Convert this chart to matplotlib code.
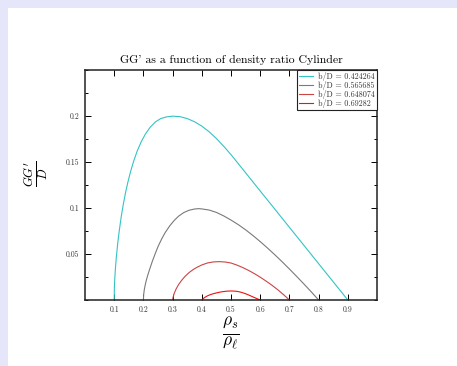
import matplotlib
matplotlib.use("Agg")
import matplotlib.pyplot as plt
from matplotlib.patches import Rectangle
from matplotlib.ticker import MultipleLocator

plt.rcParams['font.family'] = 'serif'
plt.rcParams['font.serif'] = ['cmr10', 'DejaVu Serif']
plt.rcParams['mathtext.fontset'] = 'cm'
plt.rcParams['axes.formatter.use_mathtext'] = True

labels = ["b/D = 0.424264", "b/D = 0.565685", "b/D = 0.648074", "b/D = 0.69282"]
colors = ["#33c4c4", "#7a7a7a", "#cc4444", "#ee1111"]

x1 = [0.100, 0.1005, 0.101, 0.102, 0.104, 0.107, 0.112, 0.117, 0.124, 0.131, 0.139, 0.147,
      0.156, 0.167, 0.179, 0.192, 0.207, 0.224, 0.242, 0.260, 0.280, 0.300, 0.325, 0.350,
      0.375, 0.400, 0.425, 0.450, 0.475, 0.500, 0.550, 0.600, 0.650, 0.700, 0.750, 0.800,
      0.850, 0.900]
y1 = [0.000, 0.0115, 0.0165, 0.0235, 0.0335, 0.0455, 0.0615, 0.0745, 0.0905, 0.1038, 0.1169, 0.1283,
      0.1395, 0.1513, 0.1621, 0.1716, 0.1805, 0.1881, 0.1938, 0.1973, 0.1991, 0.1998, 0.1993, 0.1972,
      0.1938, 0.1890, 0.1829, 0.1755, 0.1671, 0.1580, 0.1383, 0.1185, 0.0988, 0.0790, 0.0593, 0.0395,
      0.0198, 0.000]

x2 = [0.200, 0.201, 0.203, 0.206, 0.210, 0.215, 0.222, 0.230, 0.240, 0.250, 0.262, 0.275,
      0.290, 0.305, 0.320, 0.338, 0.356, 0.375, 0.390, 0.400, 0.425, 0.450, 0.475, 0.500,
      0.525, 0.550, 0.575, 0.600, 0.625, 0.650, 0.675, 0.700, 0.725, 0.750, 0.775, 0.800]
y2 = [0.000, 0.006, 0.011, 0.016, 0.0215, 0.027, 0.034, 0.0415, 0.050, 0.058, 0.066, 0.0735,
      0.0805, 0.0863, 0.0910, 0.0950, 0.0975, 0.0989, 0.0993, 0.0990, 0.0978, 0.0952, 0.0914, 0.0869,
      0.0819, 0.0763, 0.0701, 0.0635, 0.0565, 0.0492, 0.0416, 0.0337, 0.0256, 0.0173, 0.0088, 0.000]

x3 = [0.300, 0.302, 0.306, 0.312, 0.320, 0.330, 0.342, 0.356, 0.370, 0.385, 0.400, 0.420,
      0.440, 0.460, 0.480, 0.500, 0.520, 0.540, 0.560, 0.580, 0.600, 0.620, 0.640, 0.660,
      0.680, 0.700]
y3 = [0.000, 0.0035, 0.0075, 0.012, 0.0165, 0.021, 0.0255, 0.0297, 0.0330, 0.0358, 0.0381, 0.0403,
      0.0414, 0.0417, 0.0413, 0.0402, 0.0380, 0.0353, 0.0322, 0.0287, 0.0248, 0.0206, 0.0161,
      0.0112, 0.0058, 0.000]

x4 = [0.400, 0.405, 0.412, 0.420, 0.430, 0.440, 0.450, 0.460, 0.470, 0.480, 0.490, 0.500,
      0.510, 0.520, 0.530, 0.540, 0.550, 0.560, 0.570, 0.580, 0.590, 0.600]
y4 = [0.000, 0.0016, 0.0032, 0.0046, 0.0059, 0.0069, 0.0077, 0.0084, 0.0090, 0.0094, 0.0097,
      0.0098, 0.0097, 0.0094, 0.0088, 0.0079, 0.0068, 0.0055, 0.0041, 0.0027, 0.0013, 0.000]

xs = [x1, x2, x3, x4]
ys = [y1, y2, y3, y4]

fig = plt.figure(figsize=(4.57, 3.66), dpi=100, facecolor='#e6e6fa')
fig.patches.append(Rectangle((8/457, 0), 1, 1 - 8/366, transform=fig.transFigure,
                             facecolor='white', edgecolor='none', zorder=-1))
ax = fig.add_axes([85/457, 66/366, 292/457, 230/366])

for x, y, c, l in zip(xs, ys, colors, labels):
    ax.plot(x, y, color=c, lw=0.8, label=l)

ax.set_xlim(0, 1)
ax.set_ylim(0, 0.25)
ax.set_xticks([0.1, 0.2, 0.3, 0.4, 0.5, 0.6, 0.7, 0.8, 0.9])
ax.set_xticklabels(["0.1", "0.2", "0.3", "0.4", "0.5", "0.6", "0.7", "0.8", "0.9"])
ax.set_yticks([0.05, 0.1, 0.15, 0.2])
ax.set_yticklabels(["0.05", "0.1", "0.15", "0.2"])
ax.yaxis.set_minor_locator(MultipleLocator(0.025))
ax.tick_params(which='both', direction='in', top=True, right=True, labelsize=5.5,
               labelcolor='#333333', width=0.7)
ax.tick_params(which='major', length=4, pad=4)
ax.tick_params(which='minor', length=2.5)
for s in ax.spines.values():
    s.set_linewidth(1.1)
    s.set_color('#222222')

ax.set_title("GG' as a function of density ratio Cylinder", fontsize=8.5, pad=5)
ax.set_xlabel(r"$\frac{\rho_s}{\rho_\ell}$", fontsize=18, labelpad=1)
ax.set_ylabel(r"$\frac{GG'}{D}$", fontsize=13)
ax.yaxis.set_label_coords(-0.12, 0.55)

leg = ax.legend(loc='upper right', fontsize=5.8, fancybox=False, framealpha=1,
                edgecolor='#222222', borderaxespad=0, handlelength=1.75,
                borderpad=0.25, labelspacing=0.0, handletextpad=0.6)
leg.get_frame().set_linewidth(0.8)
for t in leg.get_texts():
    t.set_color('#333333')

fig.savefig("out.png", dpi=100, facecolor=fig.get_facecolor())
